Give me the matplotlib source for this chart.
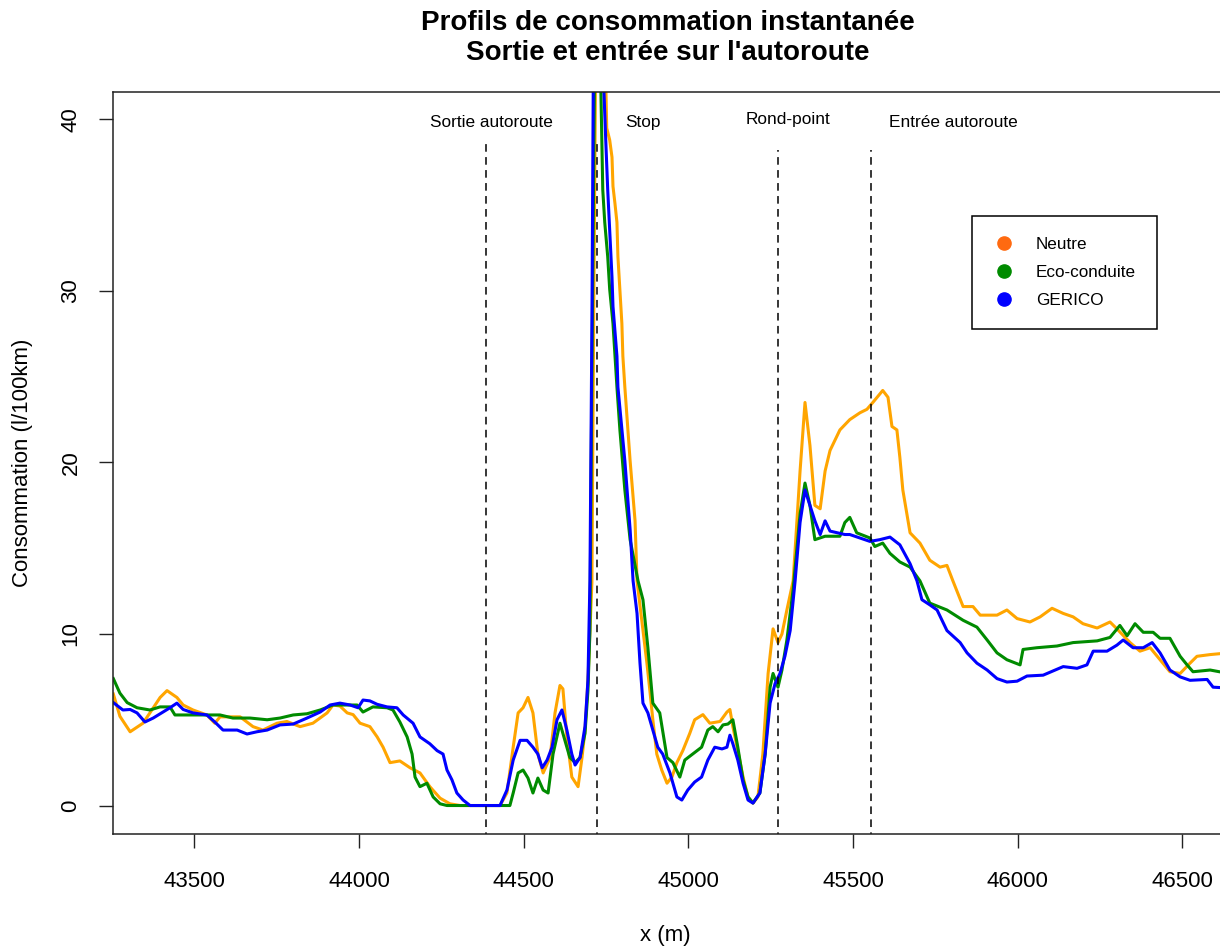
import matplotlib.pyplot as plt
from matplotlib.lines import Line2D

plt.rcParams['font.family'] = ['Liberation Sans', 'DejaVu Sans']

# distance (m) and instantaneous consumption (l/100km), one pair of lists per driving mode
x_neutre = [43254, 43274, 43305, 43344, 43365, 43396, 43417, 43447, 43466, 43496, 43538, 43562, 43578, 43639,
            43678, 43708, 43751, 43781, 43821, 43860, 43903, 43921, 43942, 43964, 43982, 44003, 44033, 44055,
            44073, 44094, 44124, 44155, 44185, 44215, 44246, 44276, 44307, 44428, 44449, 44468, 44483, 44498,
            44513, 44528, 44543, 44559, 44580, 44595, 44610, 44619, 44631, 44646, 44665, 44677, 44686, 44695,
            44707, 44713, 44719, 44746, 44752, 44761, 44768, 44771, 44777, 44783, 44786, 44792, 44798, 44801,
            44807, 44823, 44838, 44844, 44862, 44874, 44883, 44892, 44904, 44919, 44935, 44950, 44965, 44983,
            45004, 45019, 45044, 45065, 45096, 45117, 45126, 45135, 45150, 45166, 45181, 45196, 45211, 45226,
            45242, 45254, 45257, 45272, 45284, 45299, 45318, 45339, 45354, 45369, 45384, 45400, 45415, 45430,
            45460, 45490, 45521, 45542, 45560, 45590, 45606, 45618, 45633, 45642, 45651, 45673, 45703, 45733,
            45764, 45785, 45803, 45834, 45864, 45886, 45937, 45967, 45998, 46037, 46068, 46104, 46138, 46168,
            46198, 46241, 46280, 46301, 46341, 46371, 46402, 46432, 46462, 46493, 46523, 46544, 46584, 46640]
y_neutre = [6.5, 5.2, 4.3, 4.8, 5.4, 6.3, 6.7, 6.3, 5.86, 5.57, 5.28, 4.8, 5.17, 5.17,
            4.6, 4.4, 4.8, 4.9, 4.6, 4.8, 5.4, 5.86, 5.8, 5.4, 5.3, 4.8, 4.6, 4.0,
            3.4, 2.5, 2.6, 2.2, 1.9, 1.1, 0.43, 0.1, 0, 0, 0.73, 3.4, 5.4, 5.7,
            6.3, 5.4, 3.0, 1.9, 2.8, 5.4, 7.0, 6.8, 4.0, 1.66, 1.1, 2.8, 4.4, 7.3,
            13, 30, 45, 45, 39.5, 38.8, 37.8, 36.1, 35.1, 34.0, 32, 30.1, 28.1, 26.2,
            24.4, 20.1, 16.6, 13.1, 10.2, 8.3, 6.7, 5.0, 3.0, 2.07, 1.3, 1.66, 2.5, 3.2,
            4.2, 5.0, 5.3, 4.8, 4.9, 5.45, 5.6, 4.6, 3.2, 1.66, 0.5, 0.14, 0.5, 3.0,
            7.7, 9.8, 10.3, 9.5, 10.0, 11.4, 13.1, 19.5, 23.5, 21.0, 17.5, 17.3, 19.5, 20.7,
            21.9, 22.5, 22.9, 23.1, 23.5, 24.2, 23.8, 22.1, 21.9, 20.3, 18.4, 15.9, 15.3, 14.3,
            13.9, 14.0, 13.1, 11.6, 11.6, 11.1, 11.1, 11.4, 10.9, 10.7, 11.0, 11.5, 11.2, 11.0,
            10.6, 10.35, 10.7, 10.3, 9.5, 9.0, 9.2, 8.5, 7.8, 7.7, 8.3, 8.7, 8.8, 8.9]

x_eco = [43254, 43274, 43296, 43326, 43365, 43396, 43426, 43441, 43517, 43578, 43617, 43669, 43721, 43760,
         43800, 43842, 43882, 43921, 43951, 43994, 44012, 44042, 44085, 44103, 44124, 44146, 44161, 44170,
         44185, 44206, 44225, 44246, 44267, 44458, 44468, 44483, 44498, 44513, 44528, 44543, 44559, 44574,
         44589, 44610, 44625, 44640, 44656, 44671, 44686, 44695, 44701, 44707, 44716, 44731, 44737, 44740,
         44746, 44755, 44761, 44771, 44777, 44783, 44792, 44807, 44823, 44847, 44862, 44877, 44892, 44913,
         44935, 44953, 44974, 44989, 45013, 45040, 45059, 45074, 45090, 45105, 45120, 45135, 45150, 45166,
         45181, 45196, 45217, 45233, 45248, 45257, 45272, 45284, 45299, 45318, 45339, 45354, 45369, 45384,
         45415, 45460, 45475, 45490, 45511, 45551, 45566, 45590, 45612, 45642, 45673, 45703, 45733, 45785,
         45834, 45876, 45907, 45937, 45967, 46007, 46016, 46058, 46119, 46168, 46241, 46280, 46310, 46332,
         46356, 46381, 46411, 46432, 46462, 46493, 46514, 46532, 46584, 46640]
y_eco = [7.4, 6.55, 6.0, 5.7, 5.57, 5.75, 5.75, 5.28, 5.28, 5.28, 5.1, 5.1, 5.0, 5.1,
         5.28, 5.35, 5.57, 5.86, 5.86, 5.86, 5.45, 5.75, 5.7, 5.57, 4.87, 4.0, 3.0, 1.66,
         1.1, 1.3, 0.5, 0.1, 0, 0, 0.73, 1.9, 2.07, 1.6, 0.73, 1.6, 0.9, 0.73,
         3.0, 4.8, 3.8, 2.8, 2.5, 2.8, 4.2, 6.7, 10.2, 25, 45, 45, 38.8, 35.9,
         34.0, 32.0, 30.1, 28.1, 26.2, 24.4, 21.9, 18.4, 15.5, 13.1, 12.0, 9.2, 5.97, 5.4,
         2.8, 2.5, 1.66, 2.65, 3.0, 3.4, 4.4, 4.6, 4.3, 4.7, 4.75, 5.0, 3.4, 1.5,
         0.5, 0.15, 0.73, 3.0, 6.9, 7.7, 6.9, 7.9, 9.65, 12.6, 17.0, 18.8, 17.5, 15.5,
         15.7, 15.7, 16.5, 16.8, 15.9, 15.6, 15.1, 15.3, 14.7, 14.2, 13.9, 13.1, 11.8, 11.4,
         10.8, 10.4, 9.65, 8.9, 8.5, 8.2, 9.1, 9.2, 9.3, 9.5, 9.6, 9.8, 10.5, 9.9,
         10.6, 10.1, 10.1, 9.75, 9.75, 8.7, 8.2, 7.8, 7.9, 7.7]

x_gerico = [43254, 43283, 43305, 43326, 43350, 43375, 43405, 43426, 43447, 43466, 43496, 43538, 43562, 43587,
            43630, 43660, 43690, 43721, 43760, 43800, 43842, 43882, 43912, 43942, 43973, 43997, 44012, 44033,
            44055, 44085, 44115, 44134, 44164, 44185, 44215, 44237, 44255, 44267, 44282, 44297, 44316, 44337,
            44428, 44449, 44468, 44489, 44510, 44528, 44543, 44556, 44571, 44586, 44601, 44616, 44631, 44646,
            44656, 44671, 44686, 44695, 44701, 44707, 44712, 44737, 44749, 44755, 44761, 44768, 44771, 44783,
            44786, 44807, 44823, 44832, 44844, 44853, 44862, 44877, 44892, 44907, 44922, 44944, 44965, 44980,
            44998, 45019, 45040, 45059, 45080, 45102, 45117, 45126, 45135, 45150, 45166, 45181, 45196, 45217,
            45233, 45248, 45263, 45278, 45293, 45309, 45324, 45339, 45354, 45369, 45384, 45400, 45415, 45430,
            45475, 45490, 45551, 45581, 45612, 45642, 45673, 45694, 45709, 45733, 45755, 45785, 45825, 45846,
            45876, 45907, 45937, 45967, 45998, 46028, 46077, 46138, 46180, 46210, 46229, 46271, 46301, 46320,
            46350, 46381, 46408, 46432, 46462, 46493, 46523, 46575, 46593, 46640]
y_gerico = [6.0, 5.57, 5.6, 5.4, 4.87, 5.1, 5.45, 5.7, 5.97, 5.6, 5.4, 5.28, 4.87, 4.4,
            4.4, 4.17, 4.3, 4.4, 4.7, 4.75, 5.1, 5.45, 5.86, 5.97, 5.86, 5.7, 6.15, 6.1,
            5.9, 5.75, 5.7, 5.28, 4.8, 4.0, 3.6, 3.2, 3.0, 2.07, 1.5, 0.73, 0.32, 0,
            0, 0.9, 2.65, 3.8, 3.8, 3.4, 3.0, 2.2, 2.65, 3.4, 5.0, 5.57, 4.4, 3.0,
            2.36, 2.8, 4.6, 7.3, 13.1, 28, 45, 45, 38.8, 35.9, 33.6, 30.8, 29.1, 26.2,
            24.4, 20.1, 16.1, 13.1, 11.2, 8.3, 5.97, 5.4, 4.4, 3.4, 3.0, 1.9, 0.5, 0.32,
            0.9, 1.37, 1.66, 2.65, 3.4, 3.3, 3.4, 4.1, 3.6, 2.65, 1.3, 0.32, 0.14, 0.73,
            3.0, 5.97, 7.1, 7.7, 8.7, 10.2, 13.1, 16.5, 18.4, 17.5, 16.6, 15.8, 16.6, 16.0,
            15.8, 15.8, 15.4, 15.5, 15.65, 15.2, 14.1, 13.1, 12.0, 11.7, 11.4, 10.2, 9.5, 8.9,
            8.3, 7.9, 7.4, 7.2, 7.25, 7.55, 7.6, 8.1, 8.0, 8.2, 9.0, 9.0, 9.35, 9.65,
            9.2, 9.2, 9.5, 8.9, 7.9, 7.5, 7.3, 7.35, 6.9, 6.85]

# road events along the route
event_x = [44386, 44723, 45271, 45555]
event_top = [38.6, 38.6, 38.2, 38.2]
event_names = ["Sortie autoroute", "Stop", "Rond-point", "Entrée autoroute"]
event_label_x = [44402, 44861, 45301, 45805]
event_label_y = [39.8, 39.85, 40.0, 39.8]

modes = ["Neutre", "Eco-conduite", "GERICO"]
line_colors = ['#ffa500', '#008b00', '#0000ff']
legend_colors = ['#ff6a10', '#008b00', '#0000ff']

fig = plt.figure(figsize=(12.2, 9.46), dpi=100)
ax = fig.add_axes([0.0929, 0.1184, 0.9071, 0.7847])

ax.plot(x_neutre, y_neutre, color=line_colors[0], lw=2.2)
ax.plot(x_eco, y_eco, color=line_colors[1], lw=2.2)
ax.plot(x_gerico, y_gerico, color=line_colors[2], lw=2.2)

for xe, top in zip(event_x, event_top):
    ax.plot([xe, xe], [-2, top], color='black', lw=1.1, linestyle=(0, (5, 3.5)))
for name, lx, ly in zip(event_names, event_label_x, event_label_y):
    ax.text(lx, ly, name, ha='center', va='center', fontsize=12.4)

ax.set_xlim(43254, 46614)
ax.set_ylim(-1.66, 41.62)
ax.set_xticks([43500, 44000, 44500, 45000, 45500, 46000, 46500])
ax.set_yticks([0, 10, 20, 30, 40])
ax.tick_params(axis='both', length=10, width=1, labelsize=16, color='#222222')
ax.tick_params(axis='x', pad=17)
ax.tick_params(axis='y', pad=13)
plt.setp(ax.get_yticklabels(), rotation=90, va='center')
for side in ['left', 'bottom', 'top']:
    ax.spines[side].set_linewidth(1.1)
    ax.spines[side].set_color('#222222')
ax.spines['right'].set_visible(False)

fig.text(668 / 1220, 1 - 38.4 / 946, "Profils de consommation instantanée\nSortie et entrée sur l'autoroute",
         ha='center', va='center', fontsize=20, fontweight='bold', linespacing=1.2)
fig.text(665 / 1220, 1 - 935 / 946, "x (m)", ha='center', va='center', fontsize=16)
fig.text(22.5 / 1220, 1 - 463 / 946, "Consommation (l/100km)", ha='center', va='center',
         rotation=90, fontsize=16)

handles = [Line2D([], [], marker='o', linestyle='none', markersize=9.5, color=c) for c in legend_colors]
lg = ax.legend(handles, modes, loc='upper left', bbox_to_anchor=(0.7757, 0.833), fontsize=12.3,
               frameon=True, fancybox=False, edgecolor='black', framealpha=1,
               borderpad=1.25, labelspacing=0.75, handlelength=1.3, handletextpad=1.2, borderaxespad=0)
lg.get_frame().set_linewidth(1.1)

fig.savefig('out.png', dpi=100)
